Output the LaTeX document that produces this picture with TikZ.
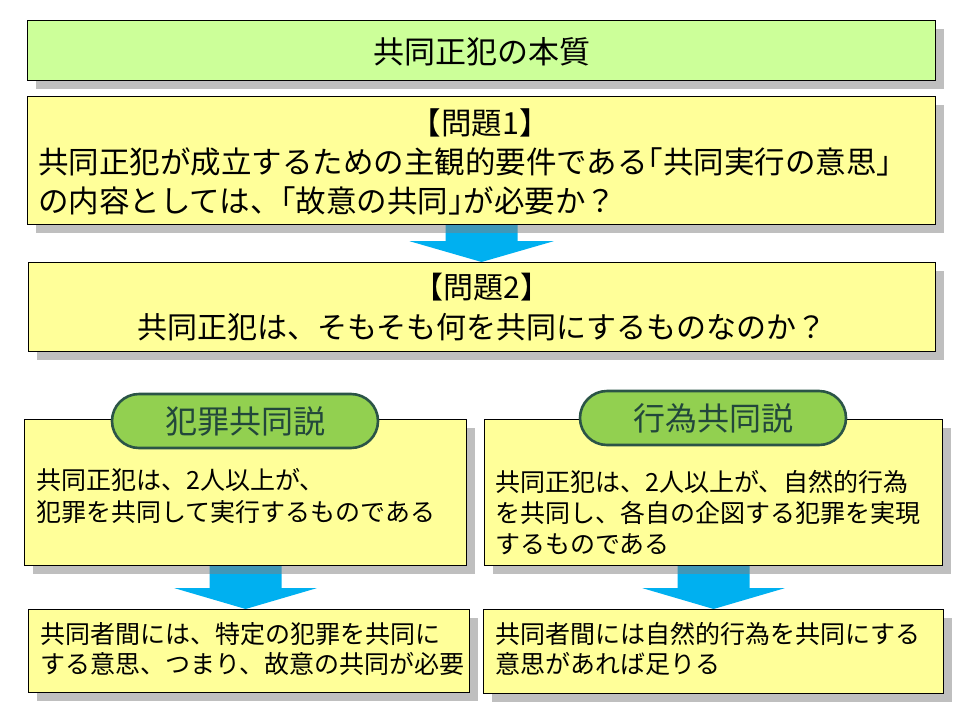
\documentclass[tikz,border=0pt]{standalone}
\usepackage{fontspec}
\newfontfamily\jp{Noto Sans CJK JP}
\newfontfamily\jph[RawFeature={+halt}]{Noto Sans CJK JP}
\usetikzlibrary{calc,shadows}
\definecolor{titlegreen}{HTML}{CCFF99}
\definecolor{boxyellow}{HTML}{FFFF99}
\definecolor{arrowblue}{HTML}{00B0F0}
\definecolor{shadowgray}{HTML}{808080}
\definecolor{pillgreen}{HTML}{92D050}
\definecolor{pillline}{HTML}{2B5447}
\definecolor{pilltext}{HTML}{22473B}
\pgfdeclarelayer{bg}
\pgfsetlayers{bg,main}
\tikzset{
  panel/.style={draw=black, line width=1.2pt, rectangle, inner sep=0pt, anchor=north west,
    general shadow={fill=shadowgray, fill opacity=0.5, shadow xshift=8pt, shadow yshift=-8pt}},
  pill/.style={draw=pillline, line width=2.6pt, fill=pillgreen, rounded corners=27pt,
    minimum width=266pt, minimum height=54pt, inner sep=0pt, text=pilltext,
    font=\jp\fontsize{32}{36}\selectfont},
  bodytext/.style={inner sep=0pt, align=left, anchor=west},
  blockarrow/.style={fill=arrowblue},
}
\begin{document}
\begin{tikzpicture}[x=1pt,y=-1pt]
\useasboundingbox (0,0) rectangle (960,720);

% boxes
\node[panel, fill=titlegreen, minimum width=908pt, minimum height=60pt] (b1) at (27,20) {};
\node[panel, fill=boxyellow, minimum width=908pt, minimum height=128pt] (b2) at (27,96) {};
\node[panel, fill=boxyellow, minimum width=907pt, minimum height=89pt] (b3) at (28,262) {};
\node[panel, fill=boxyellow, minimum width=442pt, minimum height=146pt] (b4) at (24,419) {};
\node[panel, fill=boxyellow, minimum width=458pt, minimum height=146pt] (b6) at (484,419) {};
\node[panel, fill=boxyellow, minimum width=441pt, minimum height=83pt] (b5) at (28,609) {};
\node[panel, fill=boxyellow, minimum width=460pt, minimum height=84pt] (b7) at (483,609) {};

% texts
\node[inner sep=0pt, font=\jp\fontsize{31}{39}\selectfont] (t1) at ($(b1.center)+(0,1)$) {共同正犯の本質};
\node[inner sep=0pt, align=left, anchor=west, text width=884pt, font=\jp\fontsize{30.5}{39}\selectfont] (t2) at ($(b2.west)+(11,1)$)
  {\makebox[884pt][c]{【問題1】}\\共同正犯が成立するための主観的要件である{\jph 「}共同実行の意思{\jph 」}\\の内容としては、{\jph 「}故意の共同{\jph 」}が必要か？};
\node[inner sep=0pt, align=center, font=\jp\fontsize{30}{40}\selectfont] (t3) at ($(b3.center)+(0,0)$)
  {【問題2】\\共同正犯は、そもそも何を共同にするものなのか？};
\node[bodytext, font=\jp\fontsize{25}{32}\selectfont] (t4) at ($(b4.west)+(12,3)$)
  {共同正犯は、2人以上が、\\犯罪を共同して実行するものである};
\node[bodytext, font=\jp\fontsize{25}{31}\selectfont] (t6) at ($(b6.west)+(11,20)$)
  {共同正犯は、2人以上が、自然的行為\\を共同し、各自の企図する犯罪を実現\\するものである};
\node[bodytext, font=\jp\fontsize{25}{30}\selectfont] (t5) at ($(b5.west)+(12,-2)$)
  {共同者間には、特定の犯罪を共同に\\する意思、つまり、故意の共同が必要};
\node[bodytext, font=\jp\fontsize{25}{30}\selectfont] (t7) at ($(b7.west)+(12,-3)$)
  {共同者間には自然的行為を共同にする\\意思があれば足りる};

% pills
\node[pill] (p1) at (245,421) {犯罪共同説};
\node[pill] (p2) at (713,418) {行為共同説};

% block arrows (behind shadows and boxes)
\begin{pgfonlayer}{bg}
\fill[blockarrow] ($(b2.south)+(-36,-20)$) -- ($(b2.south)+(-36,16)$) -- ($(b2.south)+(-72,16)$)
  -- (b2.south |- b3.north) -- ($(b2.south)+(72,16)$) -- ($(b2.south)+(36,16)$)
  -- ($(b2.south)+(36,-20)$) -- cycle;
\fill[blockarrow] ($(b4.south)+(-36,-20)$) -- ($(b4.south)+(-36,22)$) -- ($(b4.south)+(-71,22)$)
  -- (b4.south |- b5.north) -- ($(b4.south)+(71,22)$) -- ($(b4.south)+(36,22)$)
  -- ($(b4.south)+(36,-20)$) -- cycle;
\fill[blockarrow] ($(b6.south)+(-36,-20)$) -- ($(b6.south)+(-36,22)$) -- ($(b6.south)+(-71,22)$)
  -- (b6.south |- b7.north) -- ($(b6.south)+(71,22)$) -- ($(b6.south)+(36,22)$)
  -- ($(b6.south)+(36,-20)$) -- cycle;
\end{pgfonlayer}
\end{tikzpicture}
\end{document}
